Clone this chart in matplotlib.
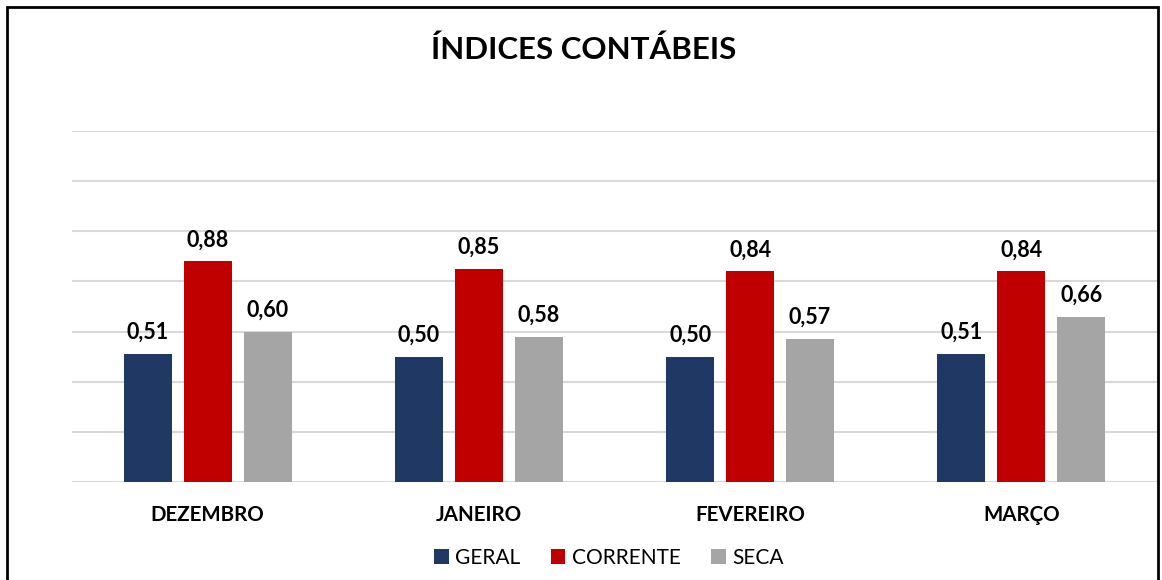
import numpy as np
import matplotlib.pyplot as plt
from matplotlib.patches import Rectangle

# Data
meses = ['DEZEMBRO', 'JANEIRO', 'FEVEREIRO', 'MARÇO']
geral = [0.51, 0.50, 0.50, 0.51]
corrente = [0.88, 0.85, 0.84, 0.84]
seca = [0.60, 0.58, 0.57, 0.66]
series_names = ['GERAL', 'CORRENTE', 'SECA']

colors = ['#1F3864', '#C00000', '#A5A5A5']

plt.rcParams['font.family'] = ['Lato', 'DejaVu Sans']

fig = plt.figure(figsize=(11.62, 5.8), dpi=100)
ax = fig.add_axes([72 / 1162, 98 / 580, 1085 / 1162, 351 / 580])

x = np.arange(len(meses))
bar_w = 0.177
step = 0.221

for i, (vals, name) in enumerate(zip([geral, corrente, seca], series_names)):
    pos = x + (i - 1) * step
    bars = ax.bar(pos, vals, width=bar_w, color=colors[i], label=name, zorder=3)
    for b, v in zip(bars, vals):
        ax.annotate(f'{v:.2f}'.replace('.', ','), (b.get_x() + b.get_width() / 2, v),
                    xytext=(0, 8), textcoords='offset points', ha='center', va='bottom',
                    fontsize=15.5, fontweight='bold', color='black')

ax.set_xlim(-0.5, len(meses) - 0.5)
ax.set_ylim(0, 1.4)
ax.set_yticks(np.arange(0, 1.41, 0.2))
ax.yaxis.grid(True, color='#D9D9D9', linewidth=1.5, zorder=0)
ax.tick_params(axis='y', left=False, labelleft=False)
ax.tick_params(axis='x', bottom=False, pad=13)
ax.set_xticks(x)
ax.set_xticklabels(meses, fontsize=14.8, fontweight='bold')
for s in ax.spines.values():
    s.set_visible(False)

fig.text(0.502, 1 - 50 / 580, 'ÍNDICES CONTÁBEIS', ha='center', va='center',
         fontsize=22.5, fontweight='bold')

fig.legend(loc='center', bbox_to_anchor=(0.524, 1 - 558 / 580), ncol=3, frameon=False,
           fontsize=15, handlelength=0.7, handleheight=0.7, handletextpad=0.3,
           columnspacing=1.47)

# outer frame around the chart
fig.patches.append(Rectangle((7 / 1162, -0.05), 1151 / 1162, 1.05 - 7 / 580,
                             transform=fig.transFigure, fill=False,
                             edgecolor='black', linewidth=2))

plt.savefig('out.png', dpi=100)
